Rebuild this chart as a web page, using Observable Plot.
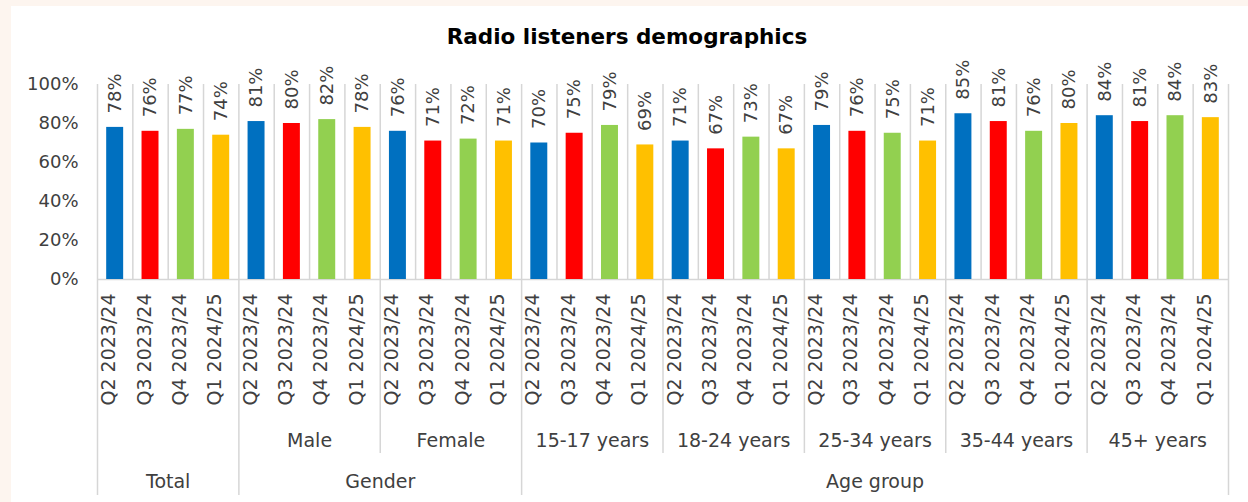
<!DOCTYPE html>
<html>
<head>
<meta charset="utf-8">
<script src="https://cdn.jsdelivr.net/npm/d3@7"></script>
<script src="https://cdn.jsdelivr.net/npm/@observablehq/plot@0.6"></script>
<style>
  html, body { margin: 0; padding: 0; width: 1248px; height: 502px; overflow: hidden; background: #fdf5ef; }
  #panel { position: absolute; left: 11px; top: 6px; width: 1237px; height: 496px; background: #ffffff; }
  #title { position: absolute; left: 0; top: 18px; width: 1232px; text-align: center;
           font: bold 21.5px "DejaVu Sans", sans-serif; line-height: 26px; color: #000; }
  #chart { position: absolute; left: 0; top: 44px; }
  svg { overflow: visible; }
</style>
</head>
<body>
<div id="panel">
  <div id="title">Radio listeners demographics</div>
  <div id="chart"></div>
</div>
<script>
// ---- data ----
const quarters = ["Q2 2023/24", "Q3 2023/24", "Q4 2023/24", "Q1 2024/25"];
const segments = ["Total", "Male", "Female", "15-17 years", "18-24 years", "25-34 years", "35-44 years", "45+ years"];
const segmentLabels = ["", "Male", "Female", "15-17 years", "18-24 years", "25-34 years", "35-44 years", "45+ years"];
const segmentGroups = ["Total", "Gender", "Gender", "Age group", "Age group", "Age group", "Age group", "Age group"];
const q2_2023 = [78, 81, 76, 70, 71, 79, 85, 84];
const q3_2023 = [76, 80, 71, 75, 67, 76, 81, 81];
const q4_2023 = [77, 82, 72, 79, 73, 75, 76, 84];
const q1_2024 = [74, 78, 71, 69, 67, 71, 80, 83];
const yTicks = [0, 20, 40, 60, 80, 100];
const colors = ["#0070C0", "#FF0000", "#92D050", "#FFC000"];

// ---- build table ----
const series = [q2_2023, q3_2023, q4_2023, q1_2024];
const nq = quarters.length;
const data = [];
segments.forEach((s, si) => {
  quarters.forEach((q, qi) => {
    data.push({i: si * nq + qi, segment: s, quarter: q, value: series[qi][si]});
  });
});
const n = data.length;

// segment spans
const segSpans = segments.map((s, si) => ({label: segmentLabels[si], start: si * nq, end: (si + 1) * nq}));
// group spans
const groupSpans = [];
segmentGroups.forEach((g, si) => {
  const last = groupSpans[groupSpans.length - 1];
  if (last && last.label === g) last.end = (si + 1) * nq;
  else groupSpans.push({label: g, start: si * nq, end: (si + 1) * nq});
});
const cellBounds = d3.range(n + 1);
const segBounds = d3.range(segments.length + 1).map(k => k * nq).filter(b => !groupSpans.some(g => g.start === b || g.end === b));
const groupBounds = Array.from(new Set(groupSpans.flatMap(g => [g.start, g.end])));

const font = "DejaVu Sans, sans-serif";
const textColor = "#404040";
const lineColor = "#d6d6d6";

const chart = Plot.plot({
  width: 1237,
  height: 452,
  marginLeft: 86,
  marginRight: 20,
  marginTop: 34,
  marginBottom: 223,
  style: {fontFamily: font, background: "transparent", overflow: "visible"},
  x: {domain: [0, n], axis: null},
  y: {domain: [0, 100], label: null},
  color: {domain: quarters, range: colors},
  marks: [
    Plot.axisY({ticks: yTicks, tickFormat: d => d + "%", tickSize: 0, tickPadding: 19, label: null, fontSize: 18, color: textColor}),
    // cell separators in plot area
    Plot.ruleX(cellBounds, {x: d => d, y1: 0, y2: 100, stroke: lineColor, strokeWidth: 1.5}),
    // separators in axis area between segments
    Plot.ruleX(segBounds, {x: d => d, stroke: lineColor, strokeWidth: 1.5, insetTop: 195, insetBottom: -174}),
    // separators in axis area between groups
    Plot.ruleX(groupBounds, {x: d => d, stroke: lineColor, strokeWidth: 1.5, insetTop: 195, insetBottom: -216}),
    // axis base line
    Plot.ruleY([0], {stroke: lineColor, strokeWidth: 1.5}),
    // bars
    Plot.rectY(data, {x1: d => d.i + 0.26, x2: d => d.i + 0.74, y: "value", fill: "quarter"}),
    // value labels
    Plot.text(data, {x: d => d.i + 0.5, y: "value", text: d => d.value + "%", rotate: -90, textAnchor: "start",
      dy: -14, fontSize: 18, fill: textColor}),
    // quarter tick labels
    Plot.text(data, {x: d => d.i + 0.5, frameAnchor: "bottom", text: "quarter", rotate: -90, textAnchor: "end",
      dy: 14, fontSize: 19, fill: textColor}),
    // segment labels
    Plot.text(segSpans, {x: d => (d.start + d.end) / 2, frameAnchor: "bottom", text: "label", dy: 167, fontSize: 19, fill: textColor}),
    // group labels
    Plot.text(groupSpans, {x: d => (d.start + d.end) / 2, frameAnchor: "bottom", text: "label", dy: 208, fontSize: 19, fill: textColor})
  ]
});
document.getElementById("chart").appendChild(chart);
</script>
</body>
</html>
